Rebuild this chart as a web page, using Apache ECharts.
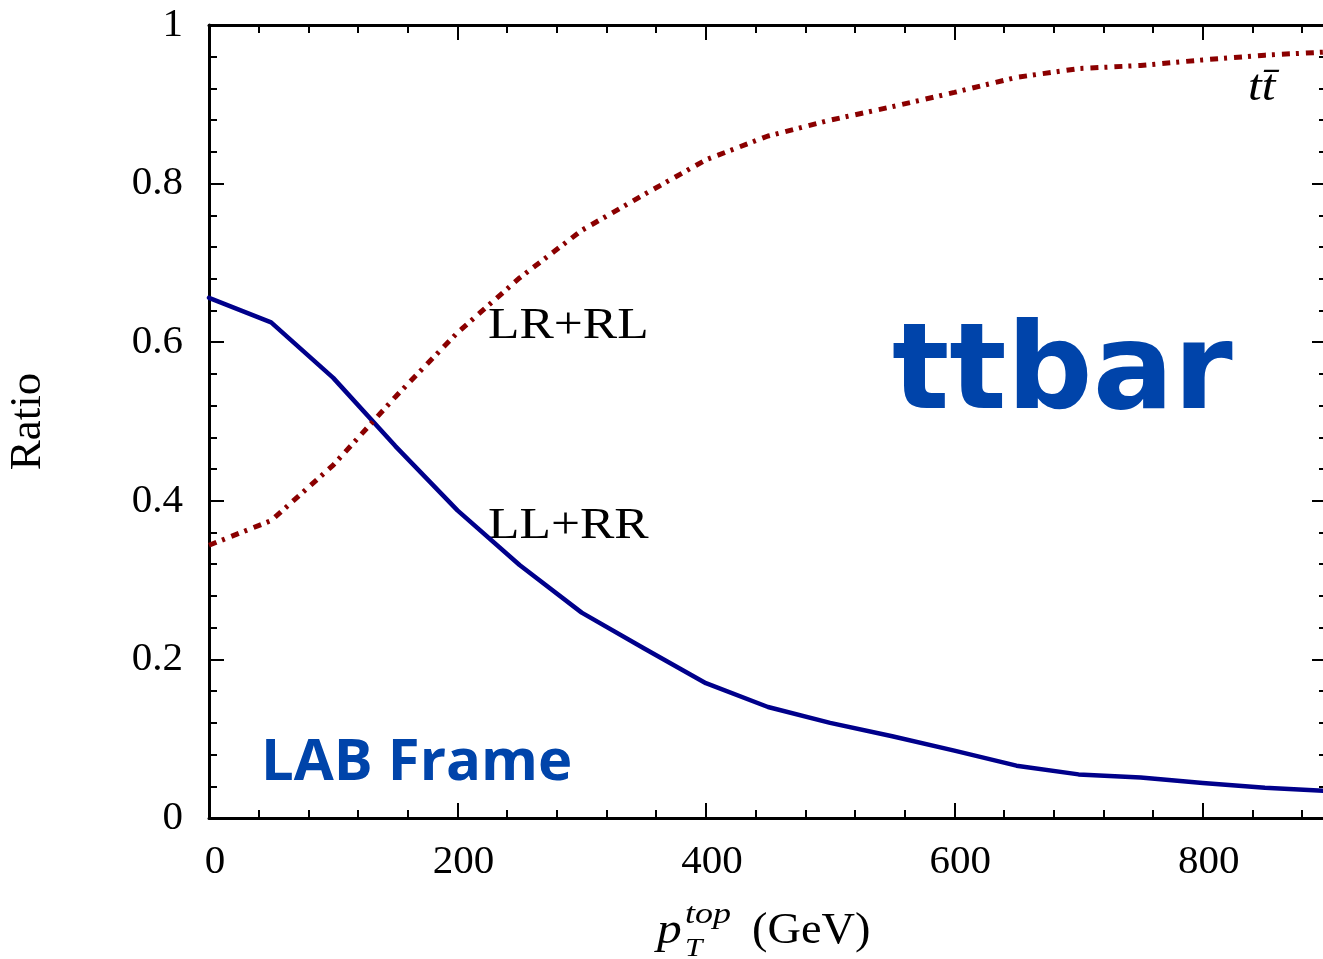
<!DOCTYPE html>
<html>
<head>
<meta charset="utf-8">
<script src="https://cdn.jsdelivr.net/npm/echarts@6/dist/echarts.min.js"></script>
<style>
  html, body { margin: 0; padding: 0; background: #fff; }
  #chart { width: 1323px; height: 959px; }
</style>
</head>
<body>
<div id="chart"></div>
<script>
// Transverse momentum of the top quark (GeV)
const ptTop = [0, 50, 100, 150, 200, 250, 300, 350, 400, 450, 500, 550, 600, 650, 700, 750, 800, 850, 900];
// Helicity fraction, like-helicity pairs (LL+RR)
const llrr = [0.656, 0.625, 0.555, 0.469, 0.388, 0.319, 0.259, 0.214, 0.170, 0.140, 0.120, 0.103, 0.085, 0.066, 0.055, 0.051, 0.044, 0.038, 0.034];
// Helicity fraction, unlike-helicity pairs (LR+RL)
const lrrl = [0.344, 0.375, 0.445, 0.531, 0.612, 0.681, 0.741, 0.786, 0.830, 0.860, 0.880, 0.897, 0.915, 0.934, 0.945, 0.949, 0.956, 0.962, 0.966];

const xMajorTicks = [0, 200, 400, 600, 800];
const yMajorTicks = [0, 0.2, 0.4, 0.6, 0.8, 1];

const SERIF = 'Liberation Serif';
const frameColor = '#000';

function xAxisDef(position, interval, tickLen, withLine, withLabels) {
  return {
    type: 'value', position: position, min: 0, max: 900, interval: interval,
    axisLine: { show: withLine, onZero: false, lineStyle: { color: frameColor, width: 3 } },
    axisTick: { show: true, inside: true, length: tickLen, lineStyle: { color: frameColor, width: 2 } },
    axisLabel: withLabels ? {
      show: true, showMaxLabel: false, margin: 24, padding: [0, 0, 0, 12],
      fontFamily: SERIF, fontSize: 41, color: '#000',
      formatter: v => (xMajorTicks.indexOf(v) >= 0 ? String(v) : '')
    } : { show: false },
    splitLine: { show: false }
  };
}
function yAxisDef(position, interval, tickLen, withLine, withLabels) {
  return {
    type: 'value', position: position, min: 0, max: 1, interval: interval,
    axisLine: { show: withLine, onZero: false, lineStyle: { color: frameColor, width: 3 } },
    axisTick: { show: true, inside: true, length: tickLen, lineStyle: { color: frameColor, width: 2 } },
    axisLabel: withLabels ? {
      show: true, margin: 26, fontFamily: SERIF, fontSize: 41, color: '#000',
      formatter: v => (yMajorTicks.indexOf(+v.toFixed(2)) >= 0 ? String(+v.toFixed(2)) : '')
    } : { show: false },
    splitLine: { show: false }
  };
}

const chart = echarts.init(document.getElementById('chart'), null, { renderer: 'canvas' });

const yMain = yAxisDef('left', 0.2, 15, true, true);
yMain.name = 'Ratio';
yMain.nameLocation = 'middle';
yMain.nameGap = 158;
yMain.nameRotate = 90;
yMain.nameTextStyle = { fontFamily: SERIF, fontSize: 45, color: '#000' };

function label(text, x, y, font, sx, color) {
  return {
    type: 'text', x: x, y: y, scaleX: sx || 1,
    style: { text: text, font: font, fill: color || '#000', textAlign: 'left', textVerticalAlign: 'middle' }
  };
}

const option = {
  backgroundColor: '#fff',
  animation: false,
  grid: { left: 209, top: 25, bottom: 141, right: -4, containLabel: false, outerBoundsMode: 'none' },
  xAxis: [
    xAxisDef('bottom', 200, 15, true, true),
    xAxisDef('bottom', 40, 8, false, false),
    xAxisDef('top', 200, 15, true, false),
    xAxisDef('top', 40, 8, false, false)
  ],
  yAxis: [
    yMain,
    yAxisDef('left', 0.04, 8, false, false),
    yAxisDef('right', 0.2, 15, true, false),
    yAxisDef('right', 0.04, 8, false, false)
  ],
  series: [
    {
      name: 'LL+RR', type: 'line', xAxisIndex: 0, yAxisIndex: 0,
      data: ptTop.map((x, i) => [x, llrr[i]]),
      symbol: 'none', smooth: false, clip: true,
      lineStyle: { color: '#00008b', width: 4.5, cap: 'round', join: 'round' }
    },
    {
      name: 'LR+RL', type: 'line', xAxisIndex: 0, yAxisIndex: 0,
      data: ptTop.map((x, i) => [x, lrrl[i]]),
      symbol: 'none', smooth: false, clip: true,
      lineStyle: { color: '#8b0000', width: 5, type: [8, 6, 3, 7], cap: 'butt' }
    }
  ],
  graphic: [
    label('LR+RL', 488, 326, `44px "${SERIF}"`, 1.17),
    label('LL+RR', 488, 526, `44px "${SERIF}"`, 1.17),
    label('tt\u0304', 1248, 88, `italic 44px "${SERIF}"`, 1.12),
    label('ttbar', 892, 377, 'bold 120px "DejaVu Sans"', 1, '#0044aa'),
    label('LAB Frame', 261, 763, 'bold 58px "Open Sans"', 1, '#0044aa'),
    // x-axis title: p_T^top (GeV)
    label('p', 657, 931, `italic 45px "${SERIF}"`, 1.1),
    label('top', 685, 915, `italic 30px "${SERIF}"`, 1.2),
    label('T', 685, 949, `italic 25px "${SERIF}"`, 1.25),
    label('(GeV)', 752, 931, `45px "${SERIF}"`, 1.03)
  ]
};

chart.setOption(option);
</script>
</body>
</html>
